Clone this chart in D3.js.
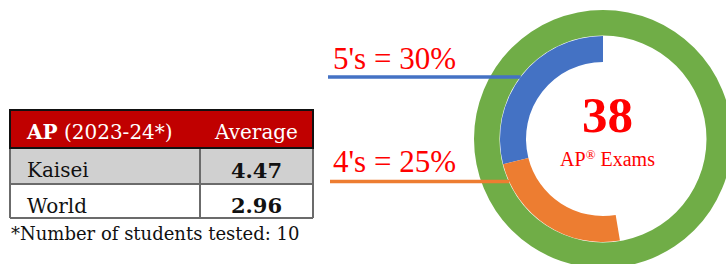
<!DOCTYPE html>
<html><head><meta charset="utf-8">
<script src="https://cdn.jsdelivr.net/npm/d3@7"></script>
<style>html,body{margin:0;padding:0;background:#fff;}svg{display:block;}</style>
</head><body>
<svg id="c" width="726" height="264"></svg>
<script>
// ---- data ----
const scoreLabels = ["5's", "4's", "other"];
const scoreCounts = [11, 9, 18];
const scorePercentLabels = ["5's = 30%", "4's = 25%"];
const scoreColors = ["#4472C4", "#ED7D31", "none"];
const totalExams = 38;
const tableHeader = ["AP", " (2023-24*)", "Average"];
const tableRows = ["Kaisei", "World"];
const tableAverages = [4.47, 2.96];
const footnote = "*Number of students tested: 10";

const svg = d3.select("#c");
const timesFont = "'Liberation Serif', 'Times New Roman', Times, serif";

// ---- donut ----
const cx = 603, cy = 139;
const rIn = 77, rMid = 103, rOut = 129;

svg.append("path")
  .attr("transform", `translate(${cx},${cy})`)
  .attr("d", d3.arc().innerRadius(rMid + 0.5).outerRadius(rOut).startAngle(0).endAngle(2 * Math.PI)())
  .attr("fill", "#70AD47");

const pie = d3.pie().sort(null).startAngle(0).endAngle(-2 * Math.PI);
const arc = d3.arc().innerRadius(rIn).outerRadius(rMid);
svg.append("g").attr("transform", `translate(${cx},${cy})`)
  .selectAll("path").data(pie(scoreCounts)).join("path")
  .attr("d", arc)
  .attr("fill", (d, i) => scoreColors[i]);

// leader lines + labels
const lineYs = [77, 181.5];
const textYs = [69, 171.5];
scorePercentLabels.forEach((lab, i) => {
  const y = lineYs[i];
  const xEnd = cx - Math.sqrt(rMid * rMid - (y - cy) * (y - cy));
  svg.append("line").attr("x1", 328 + i * 2).attr("x2", xEnd).attr("y1", y).attr("y2", y)
    .attr("stroke", scoreColors[i]).attr("stroke-width", 3.5);
  svg.append("text").attr("x", 333).attr("y", textYs[i])
    .attr("font-family", timesFont)
    .attr("font-size", 31).attr("fill", "#FF0000").text(lab);
});

svg.append("text").attr("x", 607.5).attr("y", 132).attr("text-anchor", "middle")
  .attr("font-family", timesFont)
  .attr("font-weight", "bold").attr("font-size", 51).attr("fill", "#FF0000")
  .text(totalExams);
const sub = svg.append("text").attr("x", 607.5).attr("y", 166).attr("text-anchor", "middle")
  .attr("font-family", timesFont)
  .attr("font-size", 20).attr("fill", "#FF0000");
sub.append("tspan").text("AP");
sub.append("tspan").attr("font-size", 13).attr("dy", -7).text("®");
sub.append("tspan").attr("dy", 7).text(" Exams");

// ---- table ----
const tx0 = 10, tx1 = 200, tx2 = 313;
const ty = [110, 148, 184, 218];
const serif = "'DejaVu Serif', Georgia, serif";

svg.append("rect").attr("x", tx0).attr("y", ty[0]).attr("width", tx2 - tx0).attr("height", ty[1] - ty[0]).attr("fill", "#C00000");
svg.append("rect").attr("x", tx0).attr("y", ty[1]).attr("width", tx2 - tx0).attr("height", ty[2] - ty[1]).attr("fill", "#D0D0D0");

// grid lines
const gray = "#6b6b6b";
svg.append("line").attr("x1", tx1).attr("x2", tx1).attr("y1", ty[1]).attr("y2", ty[3]).attr("stroke", gray).attr("stroke-width", 2);
svg.append("line").attr("x1", tx0).attr("x2", tx2).attr("y1", ty[2]).attr("y2", ty[2]).attr("stroke", gray).attr("stroke-width", 2);
svg.append("line").attr("x1", tx0).attr("x2", tx2).attr("y1", ty[3]).attr("y2", ty[3]).attr("stroke", gray).attr("stroke-width", 2);
svg.append("line").attr("x1", tx0).attr("x2", tx0).attr("y1", ty[1]).attr("y2", ty[3]).attr("stroke", gray).attr("stroke-width", 2);
svg.append("line").attr("x1", tx2).attr("x2", tx2).attr("y1", ty[1]).attr("y2", ty[3]).attr("stroke", gray).attr("stroke-width", 2);
// header border
svg.append("rect").attr("x", tx0).attr("y", ty[0]).attr("width", tx2 - tx0).attr("height", ty[1] - ty[0])
  .attr("fill", "none").attr("stroke", "#111").attr("stroke-width", 2);

const h = svg.append("text").attr("x", 27).attr("y", 139).attr("font-family", serif).attr("font-size", 20).attr("fill", "#fff");
h.append("tspan").attr("font-weight", "bold").text(tableHeader[0]);
h.append("tspan").attr("font-size", 20).text(tableHeader[1]);
svg.append("text").attr("x", (tx1 + tx2) / 2).attr("y", 139).attr("text-anchor", "middle")
  .attr("font-family", serif).attr("font-size", 20).attr("fill", "#fff").text(tableHeader[2]);

tableRows.forEach((r, i) => {
  svg.append("text").attr("x", 27).attr("y", [177, 213][i]).attr("font-family", serif).attr("font-size", 20).attr("fill", "#111").text(r);
  svg.append("text").attr("x", (tx1 + tx2) / 2).attr("y", [178, 213][i]).attr("text-anchor", "middle")
    .attr("font-family", serif).attr("font-weight", "bold").attr("font-size", 21).attr("fill", "#111")
    .text(d3.format(".2f")(tableAverages[i]));
});

svg.append("text").attr("x", 11).attr("y", 240).attr("font-family", serif).attr("font-size", 18).attr("fill", "#111").text(footnote);
</script>
</body></html>
